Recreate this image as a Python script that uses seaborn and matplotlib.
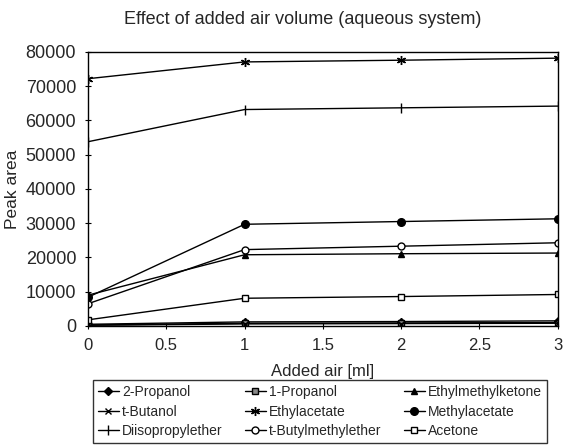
import matplotlib
matplotlib.use("Agg")
import matplotlib.pyplot as plt
import seaborn as sns
import pandas as pd

x_air = [0, 1, 2, 3]
propanol2 = [500, 1200, 1300, 1500]
propanol1 = [300, 800, 900, 1000]
emk = [9000, 20800, 21100, 21300]
tbutanol = [200, 600, 700, 800]
ethylacetate = [72200, 77100, 77600, 78200]
methylacetate = [8400, 29700, 30500, 31300]
diisopropylether = [53800, 63200, 63700, 64200]
tbme = [6500, 22300, 23300, 24300]
acetone = [1800, 8100, 8600, 9200]

names = ["2-Propanol", "1-Propanol", "Ethylmethylketone", "t-Butanol", "Ethylacetate",
         "Methylacetate", "Diisopropylether", "t-Butylmethylether", "Acetone"]
series = [propanol2, propanol1, emk, tbutanol, ethylacetate, methylacetate,
          diisopropylether, tbme, acetone]
styles = {
    "2-Propanol": dict(marker="D", mfc="black", ms=4.5),
    "1-Propanol": dict(marker="s", mfc="#888888", ms=4.5),
    "Ethylmethylketone": dict(marker="^", mfc="black", ms=5),
    "t-Butanol": dict(marker="x", mfc="black", ms=5),
    "Ethylacetate": dict(marker=(6, 2, 0), mfc="black", ms=6.5),
    "Methylacetate": dict(marker="o", mfc="black", ms=5.5),
    "Diisopropylether": dict(marker="|", mfc="black", ms=7),
    "t-Butylmethylether": dict(marker="o", mfc="white", ms=5),
    "Acetone": dict(marker="s", mfc="white", ms=5),
}

sns.set_style("white")
plt.rcParams["font.family"] = ["Liberation Sans", "DejaVu Sans"]

fig = plt.figure(figsize=(5.64, 4.47), dpi=100)
ax = fig.add_axes([0.156, 0.2707, 0.833, 0.613])

for n, s in zip(names, series):
    df = pd.DataFrame({"x": x_air, "y": s})
    st = styles[n]
    sns.lineplot(data=df, x="x", y="y", ax=ax, color="black", lw=1.0,
                 marker=st["marker"], markerfacecolor=st["mfc"],
                 markeredgecolor="black", markeredgewidth=1.0, markersize=st["ms"],
                 label=n)

h, l = ax.get_legend_handles_labels()
hd = dict(zip(l, h))
order = ["2-Propanol", "t-Butanol", "Diisopropylether",
         "1-Propanol", "Ethylacetate", "t-Butylmethylether",
         "Ethylmethylketone", "Methylacetate", "Acetone"]
ax.legend([hd[o] for o in order], order, ncol=3, loc="upper center",
          bbox_to_anchor=(0.494, -0.198), frameon=True, fancybox=False,
          edgecolor="black", fontsize=10, handlelength=1.5,
          columnspacing=1.6, handletextpad=0.25, labelspacing=0.4,
          borderpad=0.35, borderaxespad=0)

ax.set_xlim(0, 3)
ax.set_ylim(0, 80000)
ax.set_xticks([0, 0.5, 1, 1.5, 2, 2.5, 3])
ax.set_xticklabels(["0", "0.5", "1", "1.5", "2", "2.5", "3"])
ax.set_yticks(range(0, 80001, 10000))
ax.tick_params(axis="both", labelsize=12, direction="inout", length=5,
               width=0.8, color="black", bottom=True, left=True, pad=6)
ax.tick_params(axis="y", labelsize=13)
for sp in ax.spines.values():
    sp.set_color("black")
    sp.set_linewidth(1.0)
ax.set_xlabel("Added air [ml]", fontsize=12, labelpad=8)
ax.set_ylabel("Peak area", fontsize=12.5)
fig.text(0.536, 0.957, "Effect of added air volume (aqueous system)",
         ha="center", va="center", fontsize=13)

fig.savefig("out.png", dpi=100)
